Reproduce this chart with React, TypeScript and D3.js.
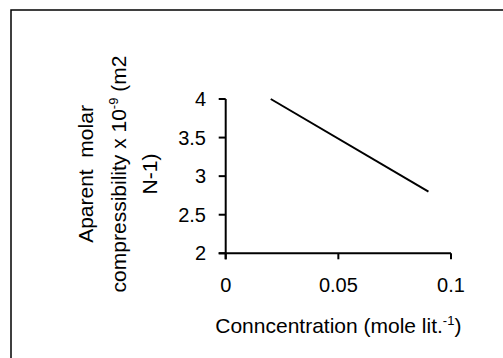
import React from 'react';
import * as d3 from 'd3';

// concentration (mole/lit) vs apparent molar compressibility
const conc = [0.02, 0.09];
const compress = [4.0, 2.8];
const xTicks = [0, 0.05, 0.1];
const xTickLabels = ['0', '0.05', '0.1'];
const yTicks = [2, 2.5, 3, 3.5, 4];
const yTickLabels = ['2', '2.5', '3', '3.5', '4'];

const W = 503;
const H = 358;
const font = 'Liberation Sans, Arial, sans-serif';

export default function App() {
  const x = d3.scaleLinear().domain([0, 0.1]).range([225.7, 451]);
  const y = d3.scaleLinear().domain([2, 4]).range([253.3, 99]);

  const pts: [number, number][] = conc.map((c, i) => [c, compress[i]]);
  const line = d3.line<[number, number]>()
    .x(d => x(d[0]))
    .y(d => y(d[1]));

  const x0 = x(0);
  const y0 = y(2);
  const cy = 174; // middle of rotated y title

  return (
    <svg width={W} height={H} style={{ position: 'fixed', left: 0, top: 0, background: '#fff' }}
      fontFamily={font}>
      {/* outer frame, cut off at right and bottom */}
      <rect x={11} y={10} width={600} height={400} fill="none" stroke="#000" strokeWidth={1.5} />

      {/* axes */}
      <line x1={x0} y1={y(4)} x2={x0} y2={y0 + 6} stroke="#000" strokeWidth={2} />
      <line x1={x0 - 7} y1={y0} x2={x(0.1)} y2={y0} stroke="#000" strokeWidth={2} />

      {yTicks.map((t, i) => (
        <g key={'y' + i}>
          <line x1={x0 - 7} x2={x0} y1={y(t)} y2={y(t)} stroke="#000" strokeWidth={2} />
          <text x={206} y={y(t)} dy="0.35em" textAnchor="end" fontSize={20}>{yTickLabels[i]}</text>
        </g>
      ))}
      {xTicks.map((t, i) => (
        <g key={'x' + i}>
          <line x1={x(t)} x2={x(t)} y1={y0} y2={y0 + 6} stroke="#000" strokeWidth={2} />
          <text x={x(t)} y={292} textAnchor="middle" fontSize={20}>{xTickLabels[i]}</text>
        </g>
      ))}

      {/* data */}
      <path d={line(pts) || ''} fill="none" stroke="#000" strokeWidth={2} />

      {/* x title */}
      <text x={(x(0) + x(0.1)) / 2} y={333} textAnchor="middle" fontSize={21}>
        Conncentration (mole lit.<tspan fontSize={13} dy={-8}>-1</tspan><tspan dy={8}>)</tspan>
      </text>

      {/* y title */}
      <text transform={`translate(93,${cy}) rotate(-90)`} textAnchor="middle" fontSize={21}
        style={{ whiteSpace: 'pre' }}>
        {'Aparent  molar'}
      </text>
      <text transform={`translate(126,${cy}) rotate(-90)`} textAnchor="middle" fontSize={21}>
        compressibility x 10<tspan fontSize={13} dy={-8}>-9</tspan><tspan dy={8}> (m2</tspan>
      </text>
      <text transform={`translate(157,${cy}) rotate(-90)`} textAnchor="middle" fontSize={21}>
        N-1)
      </text>
    </svg>
  );
}
